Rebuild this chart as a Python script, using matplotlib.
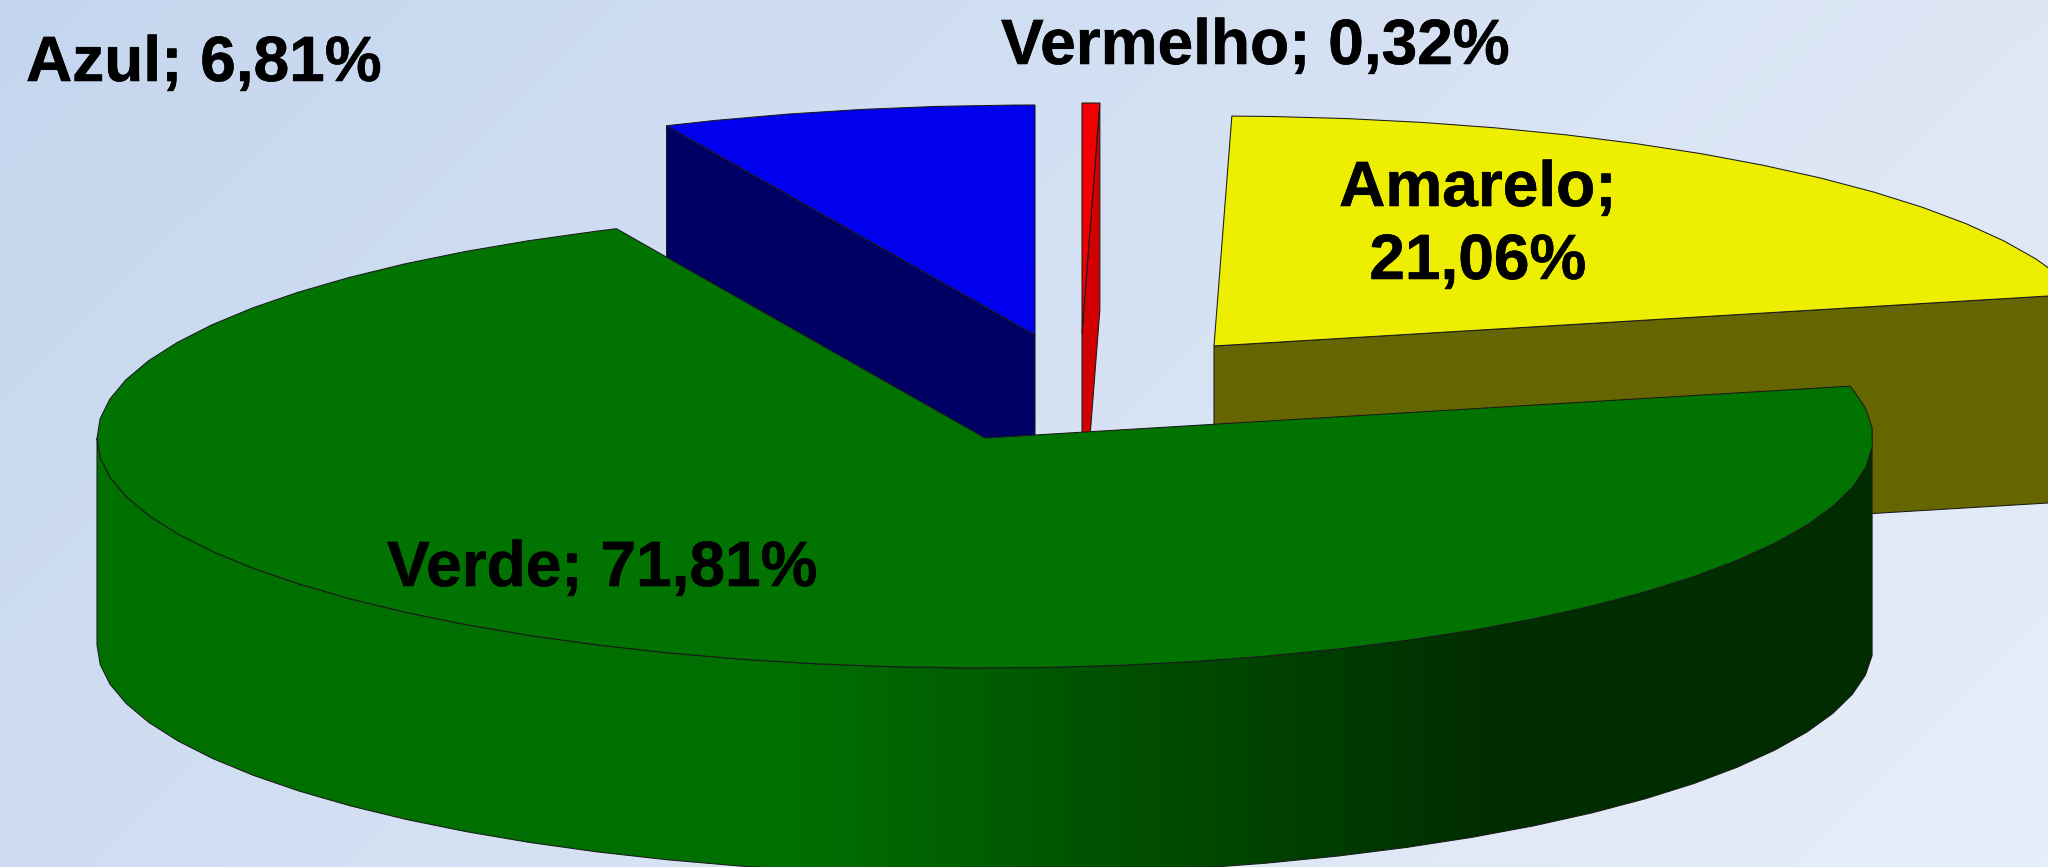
"""3D exploded pie of colour shares, drawn in pixel coordinates on a gradient background."""
import numpy as np
import matplotlib
matplotlib.use("Agg")
import matplotlib.pyplot as plt
import matplotlib.patheffects as pe
from matplotlib.colors import LinearSegmentedColormap
from matplotlib.patches import Polygon

categories = ["Vermelho", "Amarelo", "Verde", "Azul"]
shares = [0.32, 21.06, 71.81, 6.81]
pct_labels = ["0,32%", "21,06%", "71,81%", "6,81%"]

W, H = 2048, 867
RX, RY = 888, 230
DEPTH = 207
START_ANGLE = 90.0
# exploded centre of each slice
CENTERS = {"Vermelho": (1082, 333), "Amarelo": (1214, 346), "Verde": (985, 438), "Azul": (1035, 335)}
TOP = {"Vermelho": "#F00000", "Amarelo": "#EEEE00", "Verde": "#007300", "Azul": "#0000EE"}
SIDE = {"Vermelho": "#D20000", "Amarelo": "#666600", "Azul": "#000064"}
EDGE = "#1A1A1A"
LW = 0.75
FONT_PX = 64
FONT_PT = FONT_PX * 72 / 100


def rim(cx, cy, a0, a1):
    """points on the ellipse going clockwise from a0 to a1, with the coarse ~5 deg facets of the original"""
    grid = 180 + 4.93 * np.arange(-130, 50)
    inner = grid[(grid > a1) & (grid < a0)][::-1]
    ang = np.radians(np.concatenate([[a0], inner, [a1]]))
    return np.column_stack([cx + RX * np.cos(ang), cy - RY * np.sin(ang)])


def top_face(ax, name, a0, a1):
    cx, cy = CENTERS[name]
    pts = np.vstack([[(cx, cy)], rim(cx, cy, a0, a1)])
    ax.add_patch(Polygon(pts, closed=True, facecolor=TOP[name], edgecolor=EDGE, lw=LW, joinstyle="round"))


def cut_face(ax, name, angle):
    cx, cy = CENTERS[name]
    a = np.radians(angle)
    px, py = cx + RX * np.cos(a), cy - RY * np.sin(a)
    pts = [(cx, cy), (px, py), (px, py + DEPTH), (cx, cy + DEPTH)]
    ax.add_patch(Polygon(pts, closed=True, facecolor=SIDE[name], edgecolor=EDGE, lw=LW))


fig = plt.figure(figsize=(W / 100, H / 100), dpi=100)
ax = fig.add_axes([0, 0, 1, 1])
ax.set_xlim(0, W)
ax.set_ylim(H, 0)
ax.axis("off")

# background
yy, xx = np.mgrid[0:1:217j, 0:1:513j]
bg_cmap = LinearSegmentedColormap.from_list("bg", ["#C4D6EE", "#E8EEF9"])
ax.imshow(0.7 * xx + 0.3 * yy, cmap=bg_cmap, vmin=0, vmax=1, extent=(0, W, H, 0), aspect="auto", zorder=0)

# slice angles come straight from the shares, clockwise from 12 o'clock
ends = START_ANGLE - np.cumsum(shares) * 3.6
starts = np.concatenate([[START_ANGLE], ends[:-1]])
angles = {n: (s, e) for n, s, e in zip(categories, starts, ends)}

# back slices first, green goes on top of them
for name, face_angle in [("Azul", angles["Azul"][0]), ("Vermelho", angles["Vermelho"][1]),
                         ("Amarelo", angles["Amarelo"][1])]:
    cut_face(ax, name, face_angle)
    top_face(ax, name, *angles[name])

# green outer wall with the horizontal shade
gx, gy = CENTERS["Verde"]
upper = rim(gx, gy, 360 - 2.6, 180)[::-1]
wall_pts = np.vstack([upper, (upper + [0, DEPTH])[::-1]])
wall = Polygon(wall_pts, closed=True, facecolor="none", edgecolor=EDGE, lw=LW, zorder=3)
ax.add_patch(wall)
wall_cmap = LinearSegmentedColormap.from_list(
    "wall", [(0, "#007000"), (800 / W, "#006E00"), (1480 / W, "#002E00"), (1, "#002C00")])
shade = ax.imshow(np.linspace(0, 1, W).reshape(1, -1), cmap=wall_cmap, vmin=0, vmax=1,
                  extent=(0, W, H, 0), aspect="auto", zorder=2)
shade.set_clip_path(Polygon(wall_pts, closed=True, transform=ax.transData))

a0, a1 = angles["Verde"]
pts = np.vstack([[CENTERS["Verde"]], rim(gx, gy, a0, a1)])
ax.add_patch(Polygon(pts, closed=True, facecolor=TOP["Verde"], edgecolor=EDGE, lw=LW, zorder=4))

# labels
font = dict(family=["Liberation Sans", "DejaVu Sans"], fontweight="bold", fontsize=FONT_PT, color="black",
            va="baseline", zorder=5, path_effects=[pe.withStroke(linewidth=0.4, foreground="black")])
ax.text(26, 81, f"{categories[3]}; {pct_labels[3]}", ha="left", **font)
ax.text(1001, 64, f"{categories[0]}; {pct_labels[0]}", ha="left", **font)
ax.text(1478, 206, f"{categories[1]};", ha="center", **font)
ax.text(1478, 279, pct_labels[1], ha="center", **font)
ax.text(387, 586, f"{categories[2]}; {pct_labels[2]}", ha="left", **font)

fig.savefig("out.png", dpi=100)
